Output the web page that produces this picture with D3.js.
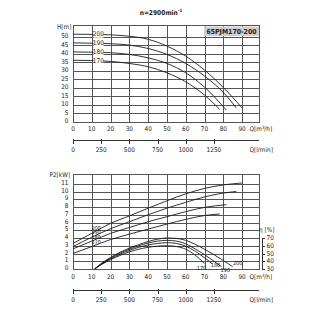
<!DOCTYPE html>
<html><head><meta charset="utf-8">
<script src="https://cdn.jsdelivr.net/npm/d3@7"></script>
<style>
body{margin:0;background:#fff}
svg{display:block;opacity:0.999}
text{font-family:"Liberation Sans Narrow","Arial Narrow","DejaVu Sans Condensed","Liberation Sans",sans-serif;fill:#222}
</style>
</head><body><svg id="c" width="325" height="325"></svg>
<script>
// ---------- data ----------
const diameters = ["200", "190", "180", "170"];
const qTicks = [0, 10, 20, 30, 40, 50, 60, 70, 80, 90];
const lminTicks = [0, 250, 500, 750, 1000, 1250];
const hTicks = [0, 5, 10, 15, 20, 25, 30, 35, 40, 45, 50];
const pTicks = [0, 1, 2, 3, 4, 5, 6, 7, 8, 9, 10, 11];
const etaTicks = [30, 40, 50, 60, 70];
const modelName = "65PJM170-200";
const speedLabel = "n=2900min";

// head H[m] vs Q[m3/h]
const head200 = [[0,51.6],[10,51.5],[20,51.2],[30,50.4],[40,48.6],[50,44.6],[60,38.7],[70,30.5],[80,20.3],[90,8.3]];
const head190 = [[0,46.5],[10,46.3],[20,46],[30,45.2],[40,43.2],[50,39.7],[60,34.4],[70,27],[80,17.4],[86.9,8.3]];
const head180 = [[0,41.2],[10,41],[20,40.7],[30,39.7],[40,37.7],[50,34.4],[60,28.9],[70,20.5],[80,9.0],[81.6,7.0]];
const head170 = [[0,36.3],[10,36.1],[20,35.6],[30,34.4],[40,32.5],[50,28.9],[60,23.6],[70,15.8],[78.1,7.4]];

// power P2[kW] vs Q[m3/h]
const power200 = [[0,3.3],[10,4.6],[20,5.9],[30,6.85],[40,7.85],[50,8.8],[60,9.7],[70,10.4],[80,10.85],[90,11.1]];
const power190 = [[0,2.9],[10,4.1],[20,5.2],[30,6.1],[40,7.0],[50,7.85],[60,8.6],[70,9.3],[80,9.8],[86.9,10.0]];
const power180 = [[0,2.6],[10,3.6],[20,4.6],[30,5.35],[40,6.1],[50,6.75],[60,7.4],[70,7.95],[81.6,8.3]];
const power170 = [[0,2.0],[10,2.9],[20,3.8],[30,4.5],[40,5.15],[50,5.8],[60,6.4],[70,6.9],[78.1,7.1]];

// efficiency eta[%] vs Q[m3/h]
const eff200 = [[11.5,30],[15,37],[20,45],[25,51.5],[30,57],[35,61.5],[40,65.5],[45,68.5],[50,70],[55,69.5],[60,67],[65,62],[70,55.5],[75,48.5],[80,41],[85,33]];
const eff190 = [[11.5,30],[15,36.5],[20,44],[25,50.5],[30,55.5],[35,60],[40,63.5],[45,66],[50,67],[55,66],[60,62.5],[65,56],[70,48.5],[75,40],[79,33]];
const eff180 = [[11.5,30],[15,36],[20,43],[25,49],[30,54],[35,58],[40,61],[45,63],[50,64],[55,63],[60,59.5],[65,53],[70,44.5],[74,37]];
const eff170 = [[11.5,30],[15,35.5],[20,42],[25,47.5],[30,52],[35,55.5],[40,58],[45,59.5],[50,60],[55,59],[60,55.5],[65,48],[70,37]];

const headSeries = [head200, head190, head180, head170];
const powerSeries = [power200, power190, power180, power170];
const effSeries = [eff200, eff190, eff180, eff170];

// ---------- layout ----------
const svg = d3.select("#c");
const L = 73, R = 259;
const x = d3.scaleLinear().domain([0, 99]).range([L, R]);
const xl = d3.scaleLinear().domain([0, 1650]).range([L, R]);
const yH = d3.scaleLinear().domain([0, 57]).range([122, 25]);
const yP = d3.scaleLinear().domain([0, 12.26]).range([269, 174]);
const yE = d3.scaleLinear().domain([30, 30 + 122.6]).range([269, 174]);
const FS = 6.4;
const gridColor = "#555";
const curveColor = "#1c1c1c";

svg.append("rect").attr("width", 325).attr("height", 325).attr("fill", "#fff");

// title
const t = svg.append("text").attr("x", 161).attr("y", 14.5).attr("text-anchor", "middle")
  .attr("font-size", 6.6).attr("font-weight", "bold").text(speedLabel);
t.append("tspan").attr("dy", -2.5).attr("font-size", 4.5).text("-1");

function panel(y, ticks, top, bottom, labOff) {
  const g = svg.append("g").attr("shape-rendering", "crispEdges");
  g.selectAll(".h").data(ticks).join("line")
    .attr("x1", L).attr("x2", R).attr("y1", d => Math.round(y(d)) + 0.5).attr("y2", d => Math.round(y(d)) + 0.5)
    .attr("stroke", gridColor).attr("stroke-width", 1);
  g.selectAll(".v").data(qTicks).join("line")
    .attr("y1", top).attr("y2", bottom).attr("x1", d => Math.round(x(d)) + 0.5).attr("x2", d => Math.round(x(d)) + 0.5)
    .attr("stroke", gridColor).attr("stroke-width", 1);
  g.append("rect").attr("x", L + 0.5).attr("y", top + 0.5).attr("width", R - L).attr("height", bottom - top)
    .attr("fill", "none").attr("stroke", gridColor).attr("stroke-width", 1);
  svg.append("g").selectAll("text").data(ticks).join("text")
    .attr("x", 68.5).attr("y", d => y(d) + 1.2).attr("text-anchor", "end").attr("font-size", FS).text(d => d);
  svg.append("g").selectAll("text").data(qTicks).join("text")
    .attr("x", d => x(d)).attr("y", bottom + labOff).attr("text-anchor", "middle").attr("font-size", FS).text(d => d);
  const ql = svg.append("text").attr("x", 249.5).attr("y", bottom + labOff).attr("font-size", FS).text("Q[m");
  ql.append("tspan").attr("font-size", 4.3).attr("dy", -2).text("3");
  ql.append("tspan").attr("dy", 2).text("/h]");
}

function lminAxis(yLine) {
  const g = svg.append("g").attr("shape-rendering", "crispEdges");
  g.append("line").attr("x1", L).attr("x2", R).attr("y1", yLine + 0.5).attr("y2", yLine + 0.5)
    .attr("stroke", "#333").attr("stroke-width", 1);
  g.selectAll(".t").data(lminTicks).join("line")
    .attr("x1", d => Math.round(xl(d)) + 0.5).attr("x2", d => Math.round(xl(d)) + 0.5)
    .attr("y1", yLine - 1).attr("y2", yLine + 4).attr("stroke", "#333");
  svg.append("g").selectAll("text").data(lminTicks).join("text")
    .attr("x", d => xl(d)).attr("y", yLine + 12).attr("text-anchor", "middle").attr("font-size", FS).text(d => d);
  svg.append("text").attr("x", 249.5).attr("y", yLine + 12).attr("font-size", FS).text("Q[l/min]");
}

// ---------- top panel ----------
panel(yH, hTicks, 25, 122, 8.5);
svg.append("text").attr("x", 57).attr("y", 28.5).attr("font-size", FS).text("H[m]");
lminAxis(140);

svg.append("rect").attr("x", 204).attr("y", 26.5).attr("width", 55).attr("height", 9.5).attr("fill", "#cfcfcf");
svg.append("text").attr("x", 231.5).attr("y", 34).attr("text-anchor", "middle").attr("font-size", 6.9)
  .attr("font-weight", "bold").attr("font-family", "Liberation Sans, Arial, sans-serif").attr("fill", "#333").text(modelName);

const lineH = d3.line().x(d => x(d[0])).y(d => yH(d[1])).curve(d3.curveMonotoneX);
svg.append("g").selectAll("path").data(headSeries).join("path")
  .attr("d", lineH).attr("fill", "none").attr("stroke", curveColor).attr("stroke-width", 0.9);
const lg = svg.append("g");
headSeries.forEach((s, i) => {
  const yy = yH(s[0][1]);
  lg.append("rect").attr("x", 93.5).attr("y", yy - 3.5).attr("width", 10).attr("height", 7).attr("fill", "#fff");
  lg.append("text").attr("x", x(13.5)).attr("y", yy + 2.3).attr("text-anchor", "middle").attr("font-size", FS).text(diameters[i]);
});

// ---------- bottom panel ----------
panel(yP, pTicks, 174, 269, 10);
svg.append("text").attr("x", 49.5).attr("y", 177).attr("font-size", FS).text("P2[kW]");
lminAxis(289.5);

const lineP = d3.line().x(d => x(d[0])).y(d => yP(d[1])).curve(d3.curveMonotoneX);
svg.append("g").selectAll("path").data(powerSeries).join("path")
  .attr("d", lineP).attr("fill", "none").attr("stroke", curveColor).attr("stroke-width", 0.9);
const pInterp = (s, q) => { for (let k = 1; k < s.length; k++) if (s[k][0] >= q) { const a = s[k-1], b = s[k]; return a[1] + (b[1]-a[1])*(q-a[0])/(b[0]-a[0]); } };
const pLabOff = [-3.3, -3.0, -2.0, -2.5];
powerSeries.forEach((s, i) => {
  svg.append("text").attr("x", x(12.4)).attr("y", yP(pInterp(s, 12.4)) + pLabOff[i] + 1.9).attr("text-anchor", "middle")
    .attr("font-size", 5.3).text(diameters[i]);
});

const lineE = d3.line().x(d => x(d[0])).y(d => yE(d[1])).curve(d3.curveMonotoneX);
svg.append("g").selectAll("path").data(effSeries).join("path")
  .attr("d", lineE).attr("fill", "none").attr("stroke", curveColor).attr("stroke-width", 0.9);
const effOff = [[5, -1.5], [4, 5.2], [3.5, 3.4], [-3, 6.5]];
effSeries.forEach((s, i) => {
  const e = s[s.length - 1];
  svg.append("text").attr("x", x(e[0]) + effOff[i][0]).attr("y", yE(e[1]) + effOff[i][1]).attr("text-anchor", "middle")
    .attr("font-size", 5.6).text(diameters[i]);
});

// eta axis
const ge = svg.append("g").attr("shape-rendering", "crispEdges");
ge.append("line").attr("x1", 262.5).attr("x2", 262.5).attr("y1", yE(70)).attr("y2", yE(30)).attr("stroke", "#333");
ge.selectAll(".t").data(etaTicks).join("line").attr("x1", 262).attr("x2", 265)
  .attr("y1", d => Math.round(yE(d)) + 0.5).attr("y2", d => Math.round(yE(d)) + 0.5).attr("stroke", "#333");
svg.append("g").selectAll("text").data(etaTicks).join("text")
  .attr("x", 266.5).attr("y", d => yE(d) + 2.2).attr("font-size", FS).text(d => d);
svg.append("text").attr("x", 259).attr("y", 232).attr("font-size", FS).text("η [%]");
</script>
</body></html>
